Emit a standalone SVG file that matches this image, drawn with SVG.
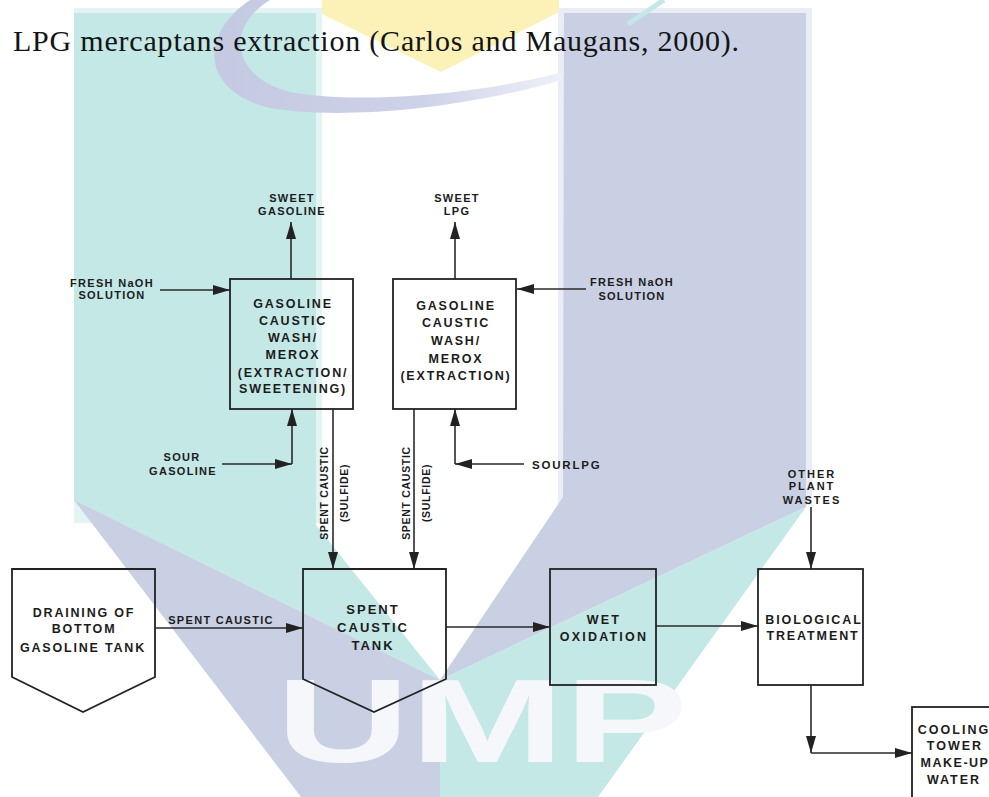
<svg xmlns="http://www.w3.org/2000/svg" width="989" height="797" viewBox="0 0 989 797">
<defs>
<style>
.t{font-family:"Liberation Sans",Arial,sans-serif;font-weight:bold;fill:#1c1c1c;text-anchor:middle}
.s11{font-size:11px;letter-spacing:1.3px}
.s12{font-size:12.5px;letter-spacing:1.8px}
.sv{font-size:10.5px;letter-spacing:0.7px}
.box{fill:none;stroke:#222;stroke-width:1.8}
.ln{fill:none;stroke:#2a2a2a;stroke-width:1.6}
.ar{marker-end:url(#ah)}
</style>
<marker id="ah" viewBox="0 0 17 10" refX="17" refY="5" markerWidth="17" markerHeight="10" markerUnits="userSpaceOnUse" orient="auto">
<path d="M0,0 L17,5 L0,10 Z" fill="#222"/>
</marker>
<linearGradient id="sw" x1="200" y1="0" x2="570" y2="0" gradientUnits="userSpaceOnUse">
<stop offset="0" stop-color="#c4c9e2"/>
<stop offset="0.6" stop-color="#cdd2e8"/>
<stop offset="1" stop-color="#f0f2f9"/>
</linearGradient>
</defs>

<g id="watermark">
<rect x="74" y="8" width="248" height="515" fill="#e2f4f3"/>
<polygon points="74,13 316,13 316,525 440,680 74,500" fill="#c3e8e6"/>
<rect x="558" y="8" width="254" height="497" fill="#eaedf6"/>
<polygon points="564,13 806,13 806,507 440,680 563,497" fill="#c9d0e4"/>
<polygon points="74,500 440,680 440,797 301,797" fill="#c9d0e4"/>
<polygon points="806,507 598,797 440,797 440,680" fill="#c3e8e6"/>
<polygon points="322,0 559,0 559,12 441,72 322,14" fill="#fcf2b8"/>
<path d="M250,0 C205,30 195,85 265,107 C330,120 450,112 562,80 L560,73 C450,100 340,102 290,92 C235,78 222,30 270,0 Z" fill="url(#sw)"/>
<line x1="628" y1="24" x2="664" y2="0" stroke="#c3e8e6" stroke-width="5"/>
<text x="276" y="762" font-family="Liberation Sans,Arial,sans-serif" font-weight="bold" font-size="118" textLength="412" lengthAdjust="spacingAndGlyphs" fill="#f6f7fb">UMP</text>
</g>

<text id="caption" x="13" y="51" font-family="Liberation Serif,Times New Roman,serif" font-size="30" fill="#141414" textLength="726" lengthAdjust="spacing">LPG mercaptans extraction (Carlos and Maugans, 2000).</text>

<g id="connectors">
<path class="ln ar" d="M291,279 V222"/>
<path class="ln ar" d="M160,290 H230"/>
<path class="ln ar" d="M455,279 V222"/>
<path class="ln ar" d="M586,289 H517"/>
<path class="ln ar" d="M222,464 H292"/>
<path class="ln ar" d="M292,464 V409"/>
<path class="ln ar" d="M333,409 V569"/>
<path class="ln ar" d="M414,409 V569"/>
<path class="ln ar" d="M524,464 H455"/>
<path class="ln ar" d="M455,464 V409"/>
<path class="ln ar" d="M155,628 H303"/>
<path class="ln ar" d="M446,627 H550"/>
<path class="ln ar" d="M656,626 H758"/>
<path class="ln ar" d="M811,507 V569"/>
<path class="ln ar" d="M811,685 V753"/>
<path class="ln ar" d="M811,753 H912"/>
</g>

<g id="box-gasoline">
<rect class="box" x="230" y="279" width="123" height="130"/>
<text class="t s12" x="293" y="307.5">GASOLINE</text>
<text class="t s12" x="293" y="324.5">CAUSTIC</text>
<text class="t s12" x="293" y="342">WASH/</text>
<text class="t s12" x="293" y="359">MEROX</text>
<text class="t s12" x="293" y="376.5">(EXTRACTION/</text>
<text class="t s12" x="293" y="393">SWEETENING)</text>
</g>

<g id="box-lpg">
<rect class="box" x="393" y="279" width="123" height="130"/>
<text class="t s12" x="456" y="310">GASOLINE</text>
<text class="t s12" x="456" y="327">CAUSTIC</text>
<text class="t s12" x="456" y="345">WASH/</text>
<text class="t s12" x="456" y="363">MEROX</text>
<text class="t s12" x="456" y="380">(EXTRACTION)</text>
</g>

<g id="lbl-sweet-gasoline">
<text class="t s11" x="292" y="202">SWEET</text>
<text class="t s11" x="292" y="215">GASOLINE</text>
</g>
<g id="lbl-sweet-lpg">
<text class="t s11" x="457" y="202">SWEET</text>
<text class="t s11" x="457" y="215">LPG</text>
</g>
<g id="lbl-naoh-left">
<text class="t s11" x="112" y="286.5">FRESH NaOH</text>
<text class="t s11" x="112" y="298.5">SOLUTION</text>
</g>
<g id="lbl-naoh-right">
<text class="t s11" x="632" y="286">FRESH NaOH</text>
<text class="t s11" x="632" y="300">SOLUTION</text>
</g>
<g id="lbl-sour-gasoline">
<text class="t s11" x="182" y="461">SOUR</text>
<text class="t s11" x="183" y="475">GASOLINE</text>
</g>
<g id="lbl-sour-lpg">
<text class="t s11" x="532" y="468.5" style="text-anchor:start;letter-spacing:1.8px;font-size:11.5px">SOURLPG</text>
</g>
<g id="lbl-spent-1">
<text class="t sv" transform="translate(328,493) rotate(-90)">SPENT CAUSTIC</text>
<text class="t sv" transform="translate(348,493) rotate(-90)">(SULFIDE)</text>
</g>
<g id="lbl-spent-2">
<text class="t sv" transform="translate(410,493) rotate(-90)">SPENT CAUSTIC</text>
<text class="t sv" transform="translate(430,493) rotate(-90)">(SULFIDE)</text>
</g>

<g id="node-draining">
<polygon class="box" points="12,569 155,569 155,677 83,712 12,677"/>
<text class="t s12" x="84" y="617">DRAINING OF</text>
<text class="t s12" x="84" y="633">BOTTOM</text>
<text class="t s12" x="83" y="652">GASOLINE TANK</text>
</g>
<g id="lbl-spent-caustic">
<text class="t s11" x="221" y="624">SPENT CAUSTIC</text>
</g>

<g id="node-spent-tank">
<polygon class="box" points="303,569 446,569 446,679 374,712 303,679"/>
<text class="t" x="373" y="614" style="font-size:13px;letter-spacing:2px">SPENT</text>
<text class="t" x="373" y="632" style="font-size:13px;letter-spacing:2px">CAUSTIC</text>
<text class="t" x="373" y="650" style="font-size:13px;letter-spacing:2px">TANK</text>
</g>

<g id="node-wet-oxidation">
<rect class="box" x="550" y="569" width="106" height="116"/>
<text class="t s12" x="604" y="624" style="letter-spacing:2.2px">WET</text>
<text class="t s12" x="604" y="641" style="letter-spacing:2.2px">OXIDATION</text>
</g>

<g id="lbl-other">
<text class="t s11" x="812" y="478" style="letter-spacing:2px">OTHER</text>
<text class="t s11" x="812" y="490" style="letter-spacing:2px">PLANT</text>
<text class="t s11" x="812" y="504" style="letter-spacing:2px">WASTES</text>
</g>

<g id="node-biological">
<rect class="box" x="758" y="569" width="105" height="116"/>
<text class="t s12" x="814" y="624" style="letter-spacing:1.9px">BIOLOGICAL</text>
<text class="t s12" x="813" y="640" style="letter-spacing:1.9px">TREATMENT</text>
</g>

<g id="node-cooling">
<rect class="box" x="912" y="707" width="90" height="110"/>
<text class="t s12" x="954" y="734" style="letter-spacing:2px">COOLING</text>
<text class="t s12" x="955" y="750" style="letter-spacing:2px">TOWER</text>
<text class="t s12" x="955" y="767" style="letter-spacing:1.5px">MAKE-UP</text>
<text class="t s12" x="954" y="784" style="letter-spacing:2px">WATER</text>
</g>
</svg>
